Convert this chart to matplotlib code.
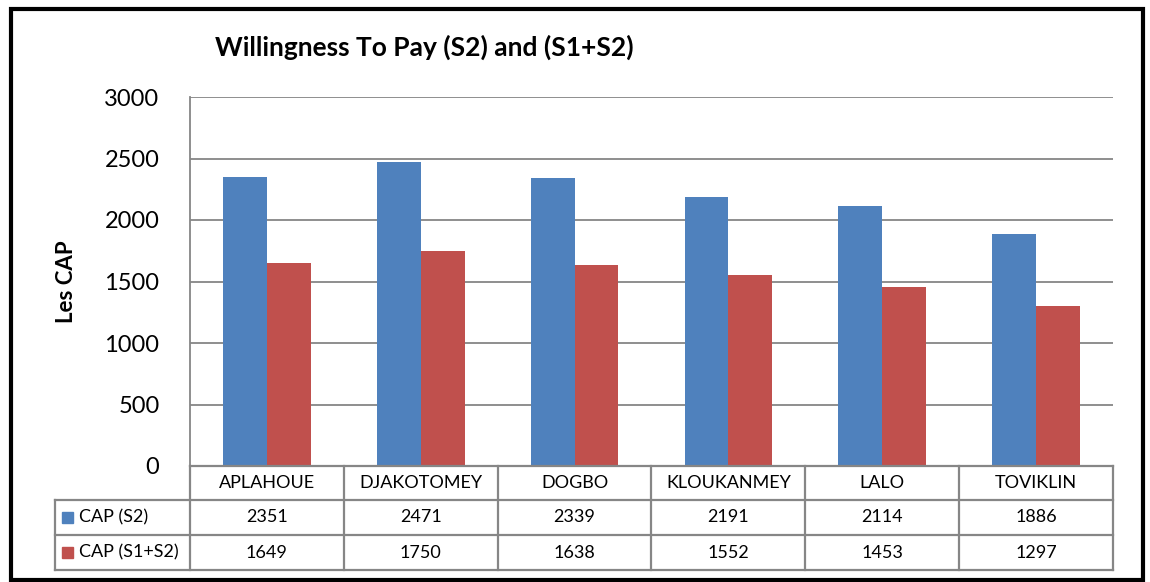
import matplotlib
matplotlib.use("Agg")
import matplotlib.pyplot as plt
from matplotlib.patches import Rectangle
from matplotlib.text import Text
from matplotlib.transforms import blended_transform_factory
import numpy as np

categories = ["APLAHOUE", "DJAKOTOMEY", "DOGBO", "KLOUKANMEY", "LALO", "TOVIKLIN"]
series_names = ["CAP (S2)", "CAP (S1+S2)"]
cap_s2 = [2351, 2471, 2339, 2191, 2114, 1886]
cap_s1s2 = [1649, 1750, 1638, 1552, 1453, 1297]
colors = ["#4F81BD", "#C0504D"]

plt.rcParams['font.family'] = ['Lato', 'DejaVu Sans']

W, H = 1150, 582
fig = plt.figure(figsize=(W / 100, H / 100), dpi=100)

def fx(px):
    return px / W

def fy(py):
    return 1 - py / H

ax_l, ax_r, ax_t, ax_b = 190, 1113, 97, 466
ax = fig.add_axes([fx(ax_l), fy(ax_b), fx(ax_r) - fx(ax_l), fy(ax_t) - fy(ax_b)])

x = np.arange(len(categories))
bw = 0.285
ax.bar(x - bw / 2, cap_s2, width=bw, color=colors[0], zorder=3)
ax.bar(x + bw / 2, cap_s1s2, width=bw, color=colors[1], zorder=3)
ax.set_xlim(-0.5, len(categories) - 0.5)
ax.set_ylim(0, 3000)
ax.set_yticks(np.arange(0, 3001, 500))
ax.yaxis.grid(True, color="#868686", linewidth=1.3, zorder=0)
ax.set_xticks([])
ax.tick_params(axis='y', length=0, labelsize=17, pad=22)
for s in ["top", "right", "bottom"]:
    ax.spines[s].set_visible(False)
ax.spines["left"].set_color("#868686")
ax.spines["left"].set_linewidth(1.3)
ax.set_ylabel("Les CAP", fontsize=16, fontweight="bold", labelpad=20)

# Table drawn below the axes
tr = blended_transform_factory(ax.transData, fig.transFigure)
line_kw = dict(color="#868686", linewidth=1.6, clip_on=False)
row_y = [466, 500, 535, 570]
left_px = 55
fig.add_artist(plt.Line2D([fx(ax_l), fx(ax_r)], [fy(row_y[0])] * 2, transform=fig.transFigure, **line_kw))
for yy in row_y[1:]:
    fig.add_artist(plt.Line2D([fx(left_px), fx(ax_r)], [fy(yy)] * 2, transform=fig.transFigure, **line_kw))
for i in range(len(categories) + 1):
    xb = i - 0.5
    fig.add_artist(plt.Line2D([xb, xb], [fy(row_y[0]), fy(row_y[-1])], transform=tr, **line_kw))
fig.add_artist(plt.Line2D([fx(left_px)] * 2, [fy(row_y[1]), fy(row_y[-1])], transform=fig.transFigure, **line_kw))

def mid(a, b):
    return fy((a + b) / 2)

fs = 13
for i, c in enumerate(categories):
    fig.add_artist(Text(i, mid(row_y[0], row_y[1]), c, transform=tr, fontsize=fs, ha="center", va="center"))
    fig.add_artist(Text(i, mid(row_y[1], row_y[2]), str(cap_s2[i]), transform=tr, fontsize=fs, ha="center", va="center"))
    fig.add_artist(Text(i, mid(row_y[2], row_y[3]), str(cap_s1s2[i]), transform=tr, fontsize=fs, ha="center", va="center"))

for k, (name, col) in enumerate(zip(series_names, colors)):
    yc = (row_y[k + 1] + row_y[k + 2]) / 2
    fig.add_artist(Rectangle((fx(62), fy(yc + 5.5)), fx(11), fy(0) - fy(11), transform=fig.transFigure, color=col))
    fig.text(fx(79), fy(yc), name, fontsize=fs, ha="left", va="center")

fig.text(fx(215), fy(47), "Willingness To Pay (S2) and (S1+S2)", fontsize=19, fontweight="bold", ha="left", va="center")

# outer border
fig.add_artist(Rectangle((fx(11), fy(580)), fx(1143) - fx(11), fy(9) - fy(580), transform=fig.transFigure,
                         fill=False, edgecolor="black", linewidth=3))

fig.savefig("out.png", dpi=100)
